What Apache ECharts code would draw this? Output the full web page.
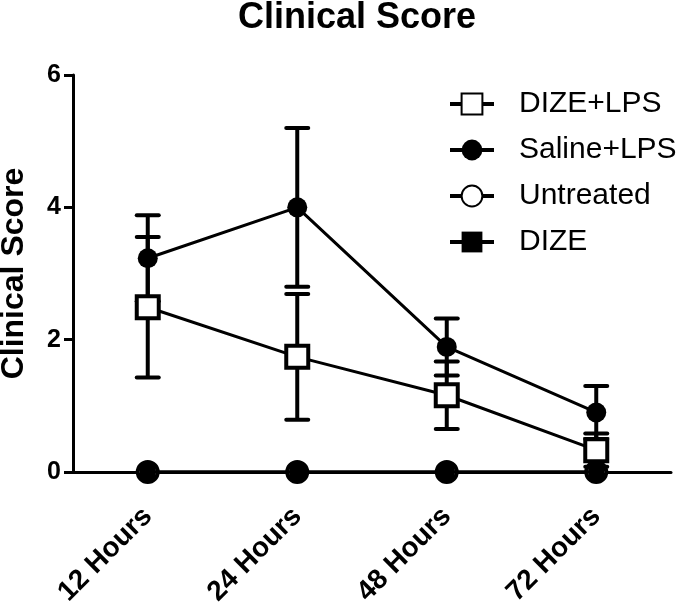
<!DOCTYPE html>
<html><head><meta charset="utf-8">
<script src="https://cdn.jsdelivr.net/npm/echarts@6/dist/echarts.min.js"></script>
<style>html,body{margin:0;padding:0;background:#fff}#c{width:685px;height:604px}</style>
</head><body><div id="c"></div>
<script>
const categories = ['12 Hours', '24 Hours', '48 Hours', '72 Hours'];
const dizeLps = [2.49, 1.74, 1.16, 0.33];
const dizeLpsErr = [1.06, 0.95, 0.51, 0.25];
const salineLps = [3.23, 4.0, 1.89, 0.9];
const salineLpsErr = [0.65, 1.2, 0.43, 0.4];
const untreated = [0, 0, 0, 0];
const dize = [0, 0, 0, 0];
const yTicks = [0, 2, 4, 6];

const FONT = 'Liberation Sans';
const chart = echarts.init(document.getElementById('c'), null, {renderer: 'canvas'});

function errData(mean, err) { return mean.map((m, i) => [i, m, err[i]]); }
function errSeries(mean, err) {
  return {
    type: 'custom', z: 1, silent: true,
    data: errData(mean, err),
    renderItem: function (params, api) {
      const i = api.value(0), m = api.value(1), e = api.value(2);
      const top = api.coord([i, m + e]);
      const bot = api.coord([i, m - e]);
      const hw = 11;
      const st = {stroke: '#000', lineWidth: 4, lineCap: 'round'};
      return {type: 'group', children: [
        {type: 'line', shape: {x1: top[0], y1: top[1], x2: bot[0], y2: bot[1]}, style: {stroke: '#000', lineWidth: 4}},
        {type: 'line', shape: {x1: top[0] - hw, y1: top[1], x2: top[0] + hw, y2: top[1]}, style: st},
        {type: 'line', shape: {x1: bot[0] - hw, y1: bot[1], x2: bot[0] + hw, y2: bot[1]}, style: st}
      ]};
    }
  };
}

const option = {
  animation: false,
  backgroundColor: '#fff',
  title: {text: 'Clinical Score', left: 233, top: -5, padding: 5,
    textStyle: {fontFamily: FONT, fontSize: 36, fontWeight: 'bold', color: '#000'}},
  legend: {
    orient: 'vertical', left: 448, top: 89, padding: 0,
    itemWidth: 44, itemHeight: 26, itemGap: 16,
    data: ['DIZE+LPS', 'Saline+LPS', 'Untreated', 'DIZE'],
    lineStyle: {width: 4},
    textStyle: {fontFamily: FONT, fontSize: 30, color: '#000', padding: [0, 0, 0, 20], lineHeight: 30}
  },
  grid: {left: 73, right: 14, top: 75, bottom: 132, containLabel: false, outerBoundsMode: 'none'},
  xAxis: {
    type: 'category', data: categories, boundaryGap: true,
    axisLine: {lineStyle: {color: '#000', width: 3}},
    axisTick: {show: false},
    axisLabel: {rotate: 45, margin: 40, color: '#000', fontFamily: FONT, fontSize: 28, fontWeight: 'bold', interval: 0}
  },
  yAxis: {
    type: 'value', min: yTicks[0], max: yTicks[yTicks.length - 1], interval: 2,
    name: 'Clinical Score', nameLocation: 'middle', nameGap: 43,
    nameTextStyle: {fontFamily: FONT, fontSize: 32, fontWeight: 'bold', color: '#000'},
    splitLine: {show: false},
    axisLine: {show: true, lineStyle: {color: '#000', width: 3}},
    axisTick: {show: true, length: 9, lineStyle: {color: '#000', width: 3}},
    axisLabel: {margin: 12, color: '#000', fontFamily: FONT, fontSize: 25, fontWeight: 'bold'}
  },
  series: [
    errSeries(dizeLps, dizeLpsErr),
    errSeries(salineLps, salineLpsErr),
    {name: 'DIZE+LPS', type: 'line', z: 3, data: dizeLps, symbol: 'rect', symbolSize: 22,
      lineStyle: {color: '#000', width: 3},
      itemStyle: {color: '#fff', borderColor: '#000', borderWidth: 4}},
    {name: 'Saline+LPS', type: 'line', z: 4, data: salineLps, symbol: 'circle', symbolSize: 20,
      lineStyle: {color: '#000', width: 3},
      itemStyle: {color: '#000', borderColor: '#000', borderWidth: 0}},
    {name: 'Untreated', type: 'line', z: 5, data: untreated, symbol: 'circle', symbolSize: 20,
      lineStyle: {color: '#000', width: 3},
      itemStyle: {color: '#fff', borderColor: '#000', borderWidth: 4}},
    {name: 'DIZE', type: 'line', z: 6, data: dize, symbol: 'rect', symbolSize: 16,
      lineStyle: {color: '#000', width: 3},
      itemStyle: {color: '#000', borderColor: '#000', borderWidth: 0}}
  ]
};
chart.setOption(option);
</script></body></html>
